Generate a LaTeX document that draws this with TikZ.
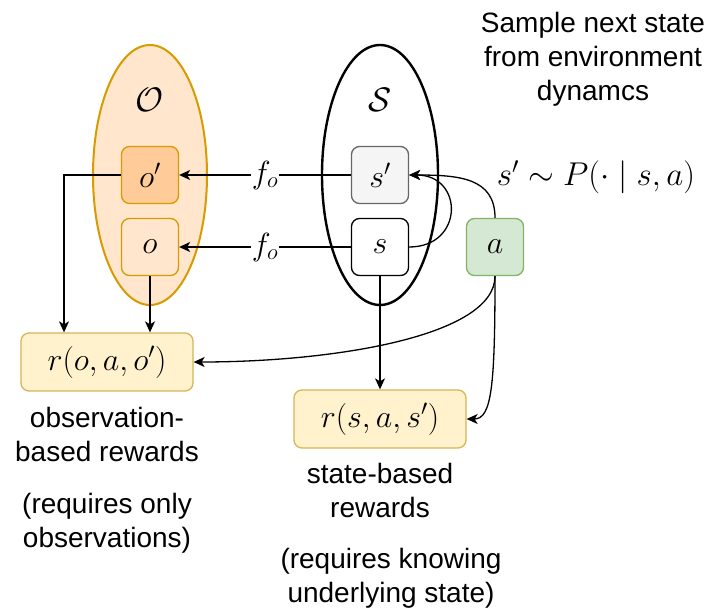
\documentclass[tikz,border=0pt]{standalone}
\usepackage{fix-cm}
\usepackage{amsmath}
\usepackage[no-math]{fontspec}
\setmainfont{Liberation Sans}
\usetikzlibrary{arrows.meta,positioning,shapes.geometric}

\definecolor{obsfill}{HTML}{FFE6CC}
\definecolor{obsline}{HTML}{D79B00}
\definecolor{obsnextfill}{HTML}{FFCC99}
\definecolor{statenextfill}{HTML}{F5F5F5}
\definecolor{statenextline}{HTML}{666666}
\definecolor{actionfill}{HTML}{D5E8D4}
\definecolor{actionline}{HTML}{82B366}
\definecolor{rewardfill}{HTML}{FFF2CC}
\definecolor{rewardline}{HTML}{D6B656}

\begin{document}
\begin{tikzpicture}[
		x=1pt, y=-1pt,
		every node/.style={font=\fontsize{28}{34}\selectfont},
		mathbig/.style={font=\fontsize{32}{38}\selectfont},
		box/.style={draw, rounded corners=8pt, line width=1.3pt, minimum width=57pt, minimum height=57pt, mathbig},
		reward/.style={box, fill=rewardfill, draw=rewardline, minimum width=172pt, minimum height=58pt},
		caption/.style={align=center, anchor=base},
		link/.style={-{Stealth[length=11pt,width=10pt,inset=3pt]}, line width=1.3pt},
	]
		\useasboundingbox (0,0) rectangle (712,610);
		
		% observation and state spaces
		\node[ellipse, draw=obsline, fill=obsfill, line width=2pt, minimum width=114pt, minimum height=260pt] (obsset) at (150,175) {};
		\node[ellipse, draw, line width=2.4pt, minimum width=116pt, minimum height=260pt] (stateset) at (380,175) {};
		\node[font=\fontsize{34}{40}\selectfont] (obslabel) at (150,100) {$\mathcal{O}$};
		\node[font=\fontsize{34}{40}\selectfont] (statelabel) at (380,100) {$\mathcal{S}$};
		
		\node[box, fill=obsnextfill, draw=obsline] (obsnext) at (150,175) {$o'$};
		\node[box, fill=obsfill, draw=obsline] (obs) at (150,247) {$o$};
		\node[box, fill=statenextfill, draw=statenextline] (statenext) at (380,175) {$s'$};
		\node[box, fill=white] (state) at (380,247) {$s$};
		\node[box, fill=actionfill, draw=actionline] (action) at (495,247) {$a$};
		
		\node[reward] (obsreward) at (107,362) {$r(o,a,o')$};
		\node[reward] (statereward) at (380,419) {$r(s,a,s')$};
		
		% captions sit on the baseline of their last line
		\node[caption] (dyntext) at (593,100) {Sample next state\\from environment\\dynamcs};
		\node[anchor=base, font=\fontsize{33}{40}\selectfont] (dynformula) at (596,185) {$s' \sim P(\cdot \mid s,a)$};
		\node[caption] (obsrewtext) at (107,461) {observation-\\based rewards};
		\node[caption] (obsrewnote) at (107,547) {(requires only\\observations)};
		\node[caption] (staterewtext) at (380,517) {state-based\\rewards};
		\node[caption] (staterewnote) at (391,602) {(requires knowing\\underlying state)};
		
		% observation function
		\draw[link] (statenext) -- node[fill=white, mathbig, inner sep=1pt] {$f_o$} (obsnext);
		\draw[link] (state) -- node[fill=white, mathbig, inner sep=1pt] {$f_o$} (obs);
		
		% rewards
		\draw[link] (obsnext.west) -| ([xshift=-43pt]obsreward.north);
		\draw[link] (obs) -- (obs |- obsreward.north);
		\draw[link] (state) -- (statereward);
		\draw[link] (action.south) .. controls +(0,60) and +(140,0) .. (obsreward.east);
		\draw[link] (action.south) .. controls +(0,110) and +(25,0) .. (statereward.east);
		
		% transition
		\draw[link] (state.east) .. controls +(55,0) and +(55,0) .. (statenext.east);
		\draw[link] (action.north) .. controls +(0,-40) and +(50,0) .. (statenext.east);
	\end{tikzpicture}
\end{document}
